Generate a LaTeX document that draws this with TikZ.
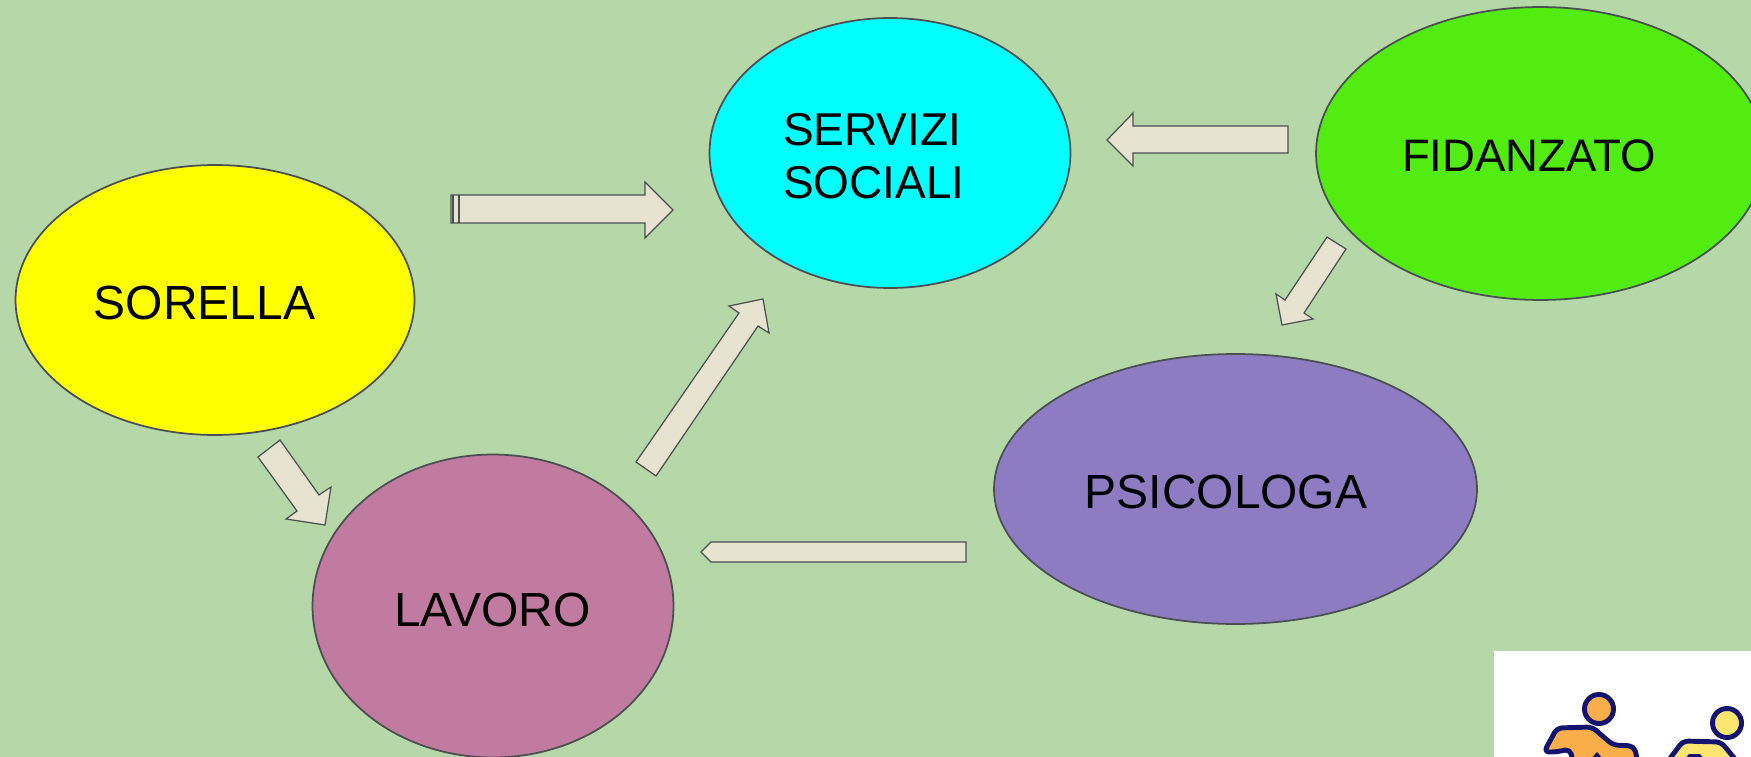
\documentclass[tikz,border=0pt]{standalone}
\usepackage{fontspec}
\setmainfont{Liberation Sans}
\usetikzlibrary{shapes.geometric}
\definecolor{bgc}{HTML}{B6D7A8}
\definecolor{arrowc}{HTML}{E8E2D0}
\definecolor{linec}{HTML}{4A4F52}
\definecolor{sorellac}{HTML}{FFFF00}
\definecolor{servizic}{HTML}{00FFFF}
\definecolor{fidanc}{HTML}{52EC10}
\definecolor{psicoc}{HTML}{8E7CC3}
\definecolor{lavoroc}{HTML}{C27BA0}
\definecolor{navyc}{HTML}{14146E}
\definecolor{orangec}{HTML}{F9AE4A}
\definecolor{yellowc}{HTML}{FBE56E}
\tikzset{
  x=0.02cm,y=-0.02cm,
  bubble/.style={ellipse,draw=linec,line width=1pt,inner sep=0pt,outer sep=0pt},
  label/.style={text=black,inner sep=0pt,outer sep=0pt},
  blockarrow/.style={draw=linec,fill=arrowc,line width=0.7pt,line join=miter},
  figbody/.style={draw=navyc,line width=2.8pt,line join=round,rounded corners=3pt},
}
\begin{document}
\begin{tikzpicture}
\clip (0,0) rectangle (1751,757);
\fill[bgc] (0,0) rectangle (1751,757);
% bubbles
\node[bubble,fill=sorellac,minimum width=7.98cm,minimum height=5.40cm] (sorella) at (215,300) {};
\node[bubble,fill=servizic,minimum width=7.22cm,minimum height=5.40cm] (servizi) at (890,153) {};
\node[bubble,fill=fidanc,minimum width=8.98cm,minimum height=5.86cm] (fidanzato) at (1540.5,153.5) {};
\node[bubble,fill=psicoc,minimum width=9.66cm,minimum height=5.40cm] (psicologa) at (1235.5,489) {};
\node[bubble,fill=lavoroc,minimum width=7.22cm,minimum height=6.06cm] (lavoro) at (493,606) {};
% labels
\node[label,font=\fontsize{27.3}{32}\selectfont] (tsorella) at (204.5,303) {SORELLA};
\node[label,align=left,anchor=west,font=\fontsize{26.2}{30.5}\selectfont] (tservizi) at (783,156) {SERVIZI\\SOCIALI};
\node[label,font=\fontsize{25.9}{32}\selectfont] (tfidanzato) at (1529,156) {FIDANZATO};
\node[label,font=\fontsize{27.3}{32}\selectfont] (tpsicologa) at (1226,492) {PSICOLOGA};
\node[label,font=\fontsize{27.3}{32}\selectfont] (tlavoro) at (492.5,610) {LAVORO};
% block arrows
\draw[blockarrow] (451,195) -- (645,195) -- (645,182) -- (673,210) -- (645,238) -- (645,223) -- (451,223) -- cycle;
\draw[linec,line width=1pt] (453,195) -- (453,223);
\draw[linec,line width=1pt] (459,195) -- (459,223);
\draw[blockarrow] (258,457) -- (280,440) -- (319,495) -- (331,487) -- (325,525) -- (286,519) -- (297,511) -- cycle;
\draw[blockarrow] (966,542) -- (711,542) -- (701,552) -- (711,562) -- (966,562) -- cycle;
\draw[blockarrow] (636,462) -- (656,476) -- (758,326) -- (769,333) -- (763,299) -- (729,306) -- (739,313) -- cycle;
\draw[blockarrow] (1288,126) -- (1133,126) -- (1133,113) -- (1107,140) -- (1133,166) -- (1133,153) -- (1288,153) -- cycle;
\draw[blockarrow] (1327,237) -- (1346,249) -- (1304,313) -- (1313,319) -- (1282,325) -- (1276,294) -- (1285,300) -- cycle;
% picture in the corner
\fill[white] (1494,651) rectangle (1751,757);
\draw[figbody,fill=orangec] (1544,752) -- (1557,728) -- (1592,727) -- (1613,745) -- (1634,746) -- (1640,770) -- (1575,770) -- (1570,749) -- (1556,752) -- cycle;
\fill[navyc] (1590,760) -- (1597,752) -- (1604,760) -- cycle;
\draw[navyc,line width=2.8pt,fill=orangec] (1599,709) circle (14.5);
\draw[figbody,fill=yellowc] (1665,765) -- (1683,741) -- (1721,742) -- (1740,765) -- cycle;
\fill[navyc] (1684,760) -- (1689,754) -- (1700,754) -- (1705,760) -- cycle;
\draw[navyc,line width=2.8pt,fill=yellowc] (1727,723) circle (14.5);
\end{tikzpicture}
\end{document}
